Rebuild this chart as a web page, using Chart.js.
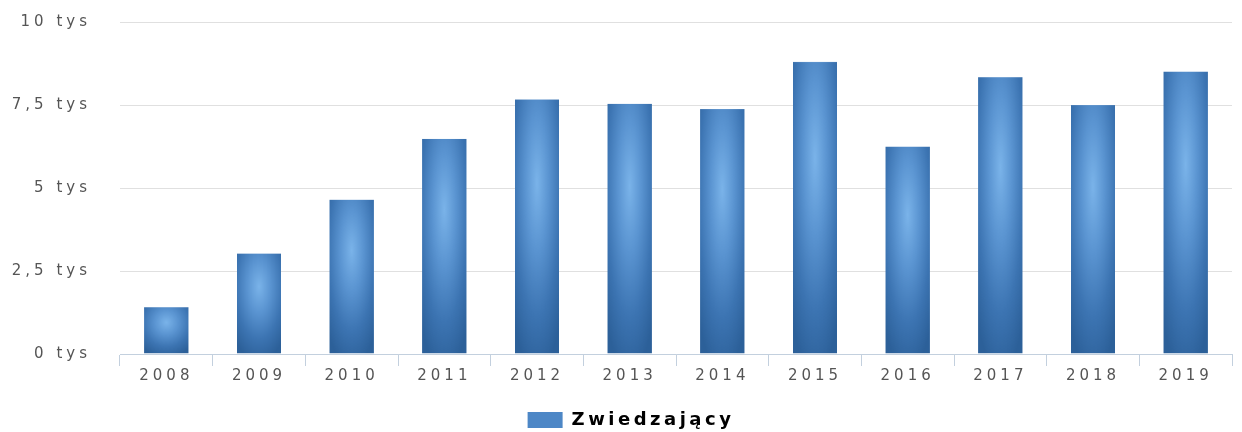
<!DOCTYPE html>
<html>
<head>
<meta charset="utf-8">
<script src="https://cdn.jsdelivr.net/npm/chart.js@4/dist/chart.umd.min.js"></script>
<style>
html,body{margin:0;padding:0;background:#fff;}
#c{display:block;}
</style>
</head>
<body>
<canvas id="c" width="1242" height="432"></canvas>
<script>
const categories = ['2008','2009','2010','2011','2012','2013','2014','2015','2016','2017','2018','2019'];
const visitors = [1410, 3030, 4650, 6480, 7670, 7540, 7380, 8800, 6250, 8340, 7500, 8510];
const seriesName = 'Zwiedzający';
const yTickValues = [0, 2500, 5000, 7500, 10000];
const yTickLabels = ['0 tys', '2,5 tys', '5 tys', '7,5 tys', '10 tys'];

// offscreen gradient texture for bars
const tex = document.createElement('canvas');
tex.width = 200; tex.height = 200;
(function(){
  const g = tex.getContext('2d');
  const rg = g.createRadialGradient(100, 66, 0, 100, 66, 150);
  rg.addColorStop(0, '#7ab3e9');
  rg.addColorStop(0.35, '#5a94d1');
  rg.addColorStop(0.7, '#3c74b2');
  rg.addColorStop(1, '#2c6099');
  g.fillStyle = rg;
  g.fillRect(0, 0, 200, 200);
})();

const SPACING = '4px';
const LEGEND_SPACING = '3.5px';
const spacingPlugin = {
  id: 'spacing',
  beforeLayout(chart){
    chart.ctx.letterSpacing = SPACING;
    const lg = chart.legend;
    if (lg && !lg._wrapped) {
      lg._wrapped = true;
      const origFit = lg.fit.bind(lg), origDraw = lg.draw.bind(lg);
      lg.fit = function(){ const c = chart.ctx; c.letterSpacing = LEGEND_SPACING; origFit(); c.letterSpacing = SPACING; };
      lg.draw = function(a){ const c = chart.ctx; c.save(); c.translate(15, 7); c.letterSpacing = LEGEND_SPACING; origDraw(a); c.restore(); c.letterSpacing = SPACING; };
    }
  },
  beforeDraw(chart){ chart.ctx.letterSpacing = SPACING; }
};

const gradPlugin = {
  id: 'barGrad',
  beforeDatasetsDraw(chart){
    const ctx = chart.ctx;
    const meta = chart.getDatasetMeta(0);
    meta.data.forEach(el => {
      const w = el.width, top = Math.min(el.y, el.base), h = Math.abs(el.base - el.y);
      const p = ctx.createPattern(tex, 'no-repeat');
      p.setTransform(new DOMMatrix().translate(el.x - w/2, top).scale(w/200, h/200));
      el.options.backgroundColor = p;
    });
  }
};

new Chart(document.getElementById('c'), {
  type: 'bar',
  data: {
    labels: categories,
    datasets: [{
      label: seriesName,
      data: visitors,
      backgroundColor: () => '#4f89c8',
      borderWidth: 0,
      categoryPercentage: 1,
      barPercentage: 0.48
    }]
  },
  options: {
    responsive: false,
    animation: false,
    layout: { padding: { top: 22, right: 10, left: 0, bottom: 0 } },
    plugins: {
      tooltip: { enabled: false },
      legend: {
        position: 'bottom',
        labels: {
          boxWidth: 35,
          boxHeight: 16,
          padding: 8,
          color: '#333333',
          font: { family: 'DejaVu Sans', size: 18, weight: 'bold' },
          generateLabels(chart){
            return [{ text: seriesName, fillStyle: '#4d87c6', strokeStyle: '#4d87c6', lineWidth: 0, datasetIndex: 0 }];
          }
        }
      }
    },
    scales: {
      x: {
        offset: true,
        afterFit(scale){ scale.height += 10; },
        grid: { display: true, drawOnChartArea: false, drawTicks: true, tickLength: 12, color: '#c3d0de', offset: true },
        border: { display: true, color: '#c3d0de' },
        ticks: { color: '#555555', padding: 1, font: { family: 'DejaVu Sans', size: 15 }, maxRotation: 0 }
      },
      y: {
        min: 0, max: 10000,
        afterFit(scale){ scale.width = 120; scale.paddingTop = 0; scale.paddingBottom = 0; },
        afterBuildTicks(scale){ scale.ticks = yTickValues.map(v => ({ value: v })); },
        grid: { color: '#e0e0e0', drawTicks: false, lineWidth: 1 },
        border: { display: false },
        ticks: {
          color: '#555555', padding: 29,
          font: { family: 'DejaVu Sans', size: 15 },
          callback: (v) => { const i = yTickValues.indexOf(v); return i >= 0 ? yTickLabels[i] : ''; }
        }
      }
    }
  },
  plugins: [spacingPlugin, gradPlugin]
});
</script>
</body>
</html>
